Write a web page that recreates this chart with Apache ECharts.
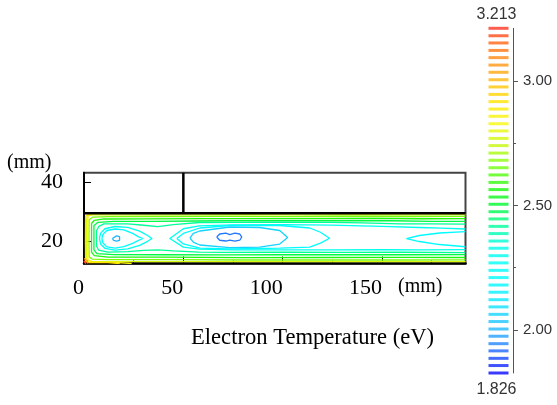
<!DOCTYPE html>
<html>
<head>
<meta charset="utf-8">
<title>Electron Temperature</title>
<script src="https://cdn.jsdelivr.net/npm/echarts@6.0.0/dist/echarts.min.js"></script>
<style>
  html, body { margin: 0; padding: 0; background: #fff; }
  #chart { width: 557px; height: 405px; }
</style>
</head>
<body>
<div id="chart"></div>
<script>
// ---- axes (mm) ----
var xRange = [0, 192];
var yRange = [12.3, 43.4];
var xTicks = [0, 50, 100, 150];
var xMajorTicks = [50, 100, 150];
var xMinorTicks = [25, 75, 125, 175];
var yTicks = [20, 40];
var plasmaTop = 29.5;     // wall between plasma region and upper box
var dividerX = 50;        // vertical wall in upper box

// ---- colour bar (eV) ----
var levels = [1.826, 1.856, 1.885, 1.915, 1.944, 1.974, 2.003, 2.033, 2.062, 2.092,
              2.121, 2.151, 2.180, 2.210, 2.239, 2.269, 2.298, 2.328, 2.357, 2.387,
              2.416, 2.446, 2.475, 2.505, 2.534, 2.564, 2.593, 2.623, 2.652, 2.682,
              2.711, 2.741, 2.770, 2.800, 2.829, 2.859, 2.888, 2.918, 2.947, 2.977,
              3.006, 3.036, 3.065, 3.095, 3.124, 3.154, 3.183, 3.213];
var barLabels = [2.0, 2.5, 3.0];
var barMinorTicks = [2.25, 2.75];

// ---- contour lines, [x mm, y mm] ----
// wall layers, open at the right boundary
var wall1 = [[192,29.02],[170,28.98],[140,29.03],[110,28.97],[80,29.0],[50,28.95],[20,28.98],[4,28.95],[1.8,28.6],[1.3,27.5],[1.3,20],[1.3,14.2],[1.8,13.3],[4,13.0],[30,12.95],[60,12.97],[100,12.92],[140,12.97],[170,12.93],[192,12.97]];
var wall2 = [[192,28.45],[165,28.4],[130,28.48],[100,28.38],[70,28.43],[40,28.4],[12,28.38],[4.5,28.2],[2.6,27.3],[2.5,20.5],[2.6,14.6],[4,13.8],[12,13.65],[45,13.6],[80,13.5],[120,13.55],[160,13.5],[192,13.55]];
var wall3 = [[192,27.7],[170,27.62],[145,27.75],[120,27.65],[90,27.7],[60,27.65],[30,27.6],[10,27.55],[5.2,27.1],[3.8,26.0],[3.8,16.2],[5.2,15.0],[12,14.5],[40,14.45],[80,14.3],[120,14.35],[160,14.4],[192,14.35]];
var wall4 = [[192,26.7],[175,26.75],[155,26.95],[130,26.95],[100,27.0],[75,26.95],[55,26.85],[35,26.75],[15,26.75],[7,26.4],[5.0,25.2],[5.0,17.0],[6.5,15.7],[15,15.35],[40,15.3],[70,15.25],[100,15.3],[130,15.35],[160,15.3],[192,15.35]];
var wall5 = [[192,25.8],[175,25.9],[159,25.85],[140,26.2],[124,26.42],[100,26.45],[75,26.4],[58,26.35],[45,25.6],[37,24.95],[30,25.4],[22,25.9],[10,25.85],[7.5,25.0],[6.3,23.5],[6.3,18.3],[7.3,16.9],[12,16.2],[22,16.4],[30,16.8],[37,17.0],[45,16.6],[58,16.2],[70,16.12],[100,16.15],[130,16.1],[160,16.15],[192,16.05]];
// left vortex
var leftLoop1 = [[7.8,20.9],[8.3,22.6],[10.5,24.2],[15.6,24.97],[22,24.7],[28,23.4],[32,21.9],[34.2,20.86],[32,19.9],[28,18.5],[22,17.3],[15.6,16.91],[10.5,17.5],[8.3,19.0],[7.8,20.9]];
var leftLoop2 = [[9.0,20.9],[9.6,22.3],[11.5,23.6],[15.6,24.12],[20,23.8],[24.5,22.6],[27.5,21.4],[29.6,20.86],[27.5,20.2],[24.5,19.2],[20,18.1],[15.6,17.6],[11.5,18.0],[9.6,19.3],[9.0,20.9]];
var leftCore = [[14.3,20.86],[14.9,21.5],[16.4,21.76],[17.9,21.5],[18.5,20.86],[17.9,20.25],[16.4,19.96],[14.9,20.25],[14.3,20.86]];
// middle vortex
var midOuter = [[192,24.12],[180,24.4],[168.8,24.63],[150,25.0],[124,25.45],[100,25.6],[75,25.55],[58,25.2],[50,24.2],[43.2,20.86],[50,17.9],[58,17.2],[75,17.0],[100,16.95],[124,17.0],[150,17.05],[170,17.0],[192,17.02]];
var midLoop1 = [[46.7,20.86],[50,22.6],[58.3,24.46],[73.4,25.32],[98.5,25.32],[113.6,24.46],[119,23],[123.6,20.96],[119,19.3],[113.6,17.94],[98.5,17.6],[73.4,17.26],[58.3,17.6],[50,19.0],[46.7,20.86]];
var midLoop2 = [[53.3,21.03],[55,22.6],[58.3,23.43],[73.4,24.8],[88.4,24.63],[98.5,23.6],[102.5,21.2],[98.5,18.97],[88.4,17.94],[73.4,17.77],[58.3,18.63],[55,19.6],[53.3,21.03]];
var midCore = [[66.8,21.37],[68.3,22.4],[71.4,22.68],[73.4,22.23],[75.9,22.68],[78.4,22.4],[79.4,21.37],[78.4,20.27],[75.9,20.0],[73.4,20.34],[71.4,20.0],[68.3,20.27],[66.8,21.37]];
// right region, open at the right boundary
var rightLoop = [[192,23.19],[178.9,22.74],[168.8,21.89],[162.3,20.86],[168.8,19.83],[178.9,18.8],[192,18.04]];
// hot layer on the left wall and the bottom-left corner
var corner1 = [[6,29.5],[2.5,29.3],[0.8,28.5],[0.7,20],[0.8,13.2],[2.5,12.65],[12,12.6],[18,12.3]];
var corner4 = [[14,29.5],[4,29.25],[2.0,28.8],[1.9,20],[2.0,13.6],[4,12.85],[14,12.75],[24,12.3]];
var corner2 = [[0,14.0],[0.8,13.8],[1.6,13.3],[2.0,12.3]];
var corner3 = [[0,13.2],[0.6,13.1],[1.0,12.7],[1.1,12.3]];

var contours = [
  [2.78, wall1], [2.66, wall2], [2.57, wall3], [2.49, wall4], [2.42, wall5],
  [2.33, leftLoop1], [2.20, leftLoop2], [2.00, leftCore],
  [2.33, midOuter], [2.20, midLoop1], [2.06, midLoop2], [1.93, midCore],
  [2.20, rightLoop],
  [2.86, corner4], [2.92, corner1], [3.06, corner2], [3.19, corner3]
];

// rainbow scale of the colour bar
var colorStops = [
  [1.826, '#0808ff'], [1.886, '#1848ff'], [1.945, '#2488ff'], [2.003, '#22b8ff'],
  [2.09, '#10e0ff'], [2.2, '#00fcff'], [2.33, '#00ffec'], [2.42, '#00ff98'],
  [2.505, '#00f830'], [2.565, '#18f80c'], [2.652, '#70ff0c'], [2.74, '#c4f80c'],
  [2.83, '#f8f80c'], [2.918, '#ffe400'], [3.006, '#ffb80c'], [3.095, '#ff8814'],
  [3.154, '#ff6414'], [3.213, '#ff3424']
];

function hexRgb(h) {
  return [parseInt(h.substr(1, 2), 16), parseInt(h.substr(3, 2), 16), parseInt(h.substr(5, 2), 16)];
}
function levelColor(v) {
  for (var i = 1; i < colorStops.length; i++) {
    if (v <= colorStops[i][0]) {
      var a = colorStops[i - 1], b = colorStops[i];
      var t = (v - a[0]) / (b[0] - a[0]);
      var ca = hexRgb(a[1]), cb = hexRgb(b[1]);
      var c = ca.map(function (x, k) { return Math.round(x + (cb[k] - x) * t); });
      return 'rgb(' + c.join(',') + ')';
    }
  }
  return colorStops[colorStops.length - 1][1];
}

var serif = "'Times New Roman', 'Liberation Serif', serif";
var sans = "Arial, 'Liberation Sans', sans-serif";

var myChart = echarts.init(document.getElementById('chart'));

var series = contours.map(function (c) {
  return {
    type: 'line',
    xAxisIndex: 0, yAxisIndex: 0,
    data: c[1],
    showSymbol: false, symbol: 'none',
    lineStyle: { color: levelColor(c[0]), width: c[0] > 3.1 ? 2 : 1.3 },
    silent: true, z: 2
  };
});
// walls of the chamber
series.push({
  type: 'line', xAxisIndex: 0, yAxisIndex: 0,
  data: [[xRange[0], plasmaTop], [xRange[1], plasmaTop]],
  symbol: 'none', lineStyle: { color: '#000', width: 2.5 }, silent: true, z: 5
});
series.push({
  type: 'line', xAxisIndex: 0, yAxisIndex: 0,
  data: [[dividerX, plasmaTop], [dividerX, yRange[1]]],
  symbol: 'none', lineStyle: { color: '#000', width: 2.5 }, silent: true, z: 5
});
// colour bar
series.push({
  type: 'scatter', xAxisIndex: 2, yAxisIndex: 1,
  data: levels.map(function (v) { return ['T', v]; }),
  symbol: 'rect', symbolSize: [20, 3],
  itemStyle: { color: function (p) { return levelColor(p.value[1]); } },
  silent: true
});

var option = {
  animation: false,
  backgroundColor: '#fff',
  grid: [
    { left: 84, top: 172.7, width: 381.5, height: 90.8, show: true, borderColor: '#444', borderWidth: 2, backgroundColor: 'transparent' },
    { left: 488.5, top: 28.3, width: 20, height: 344.7 }
  ],
  xAxis: [
    {
      type: 'value', gridIndex: 0, min: xRange[0], max: xRange[1], position: 'bottom',
      axisLine: { lineStyle: { color: '#000', width: 2.5 } },
      axisTick: { inside: true, length: 7, customValues: xMajorTicks, lineStyle: { color: '#000' } },
      axisLabel: { customValues: xTicks, align: 'right', margin: 14, fontSize: 22, fontFamily: serif, color: '#000' },
      splitLine: { show: false }
    },
    {
      type: 'value', gridIndex: 0, min: xRange[0], max: xRange[1], position: 'bottom',
      axisLine: { show: false },
      axisTick: { inside: true, length: 3, customValues: xMinorTicks, lineStyle: { color: '#000' } },
      axisLabel: { show: false },
      splitLine: { show: false }
    },
    { type: 'category', gridIndex: 1, data: ['T'], show: false }
  ],
  yAxis: [
    {
      type: 'value', gridIndex: 0, min: yRange[0], max: yRange[1],
      axisLine: { lineStyle: { color: '#000', width: 2 } },
      axisTick: { inside: true, length: 7, customValues: yTicks, lineStyle: { color: '#000' } },
      axisLabel: { customValues: yTicks, margin: 21, fontSize: 22, fontFamily: serif, color: '#000' },
      splitLine: { show: false }
    },
    {
      type: 'value', gridIndex: 1, min: levels[0], max: levels[levels.length - 1],
      position: 'right', offset: 4.5,
      axisLine: { show: true, lineStyle: { color: '#555', width: 1 } },
      axisTick: { show: true, length: 5, customValues: barLabels, lineStyle: { color: '#555' } },
      axisLabel: {
        customValues: barLabels, margin: 10, fontSize: 15, fontFamily: sans, color: '#333',
        formatter: function (v) { return v.toFixed(2); }
      },
      splitLine: { show: false }
    },
    {
      type: 'value', gridIndex: 1, min: levels[0], max: levels[levels.length - 1],
      position: 'right', offset: 4.5,
      axisLine: { show: false },
      axisTick: { show: true, length: 3, customValues: barMinorTicks, lineStyle: { color: '#555' } },
      axisLabel: { show: false },
      splitLine: { show: false }
    }
  ],
  graphic: [
    { type: 'text', x: 7, y: 163, style: { text: '(mm)', font: '20px ' + serif, fill: '#000', verticalAlign: 'middle' } },
    { type: 'text', x: 398, y: 287, style: { text: '(mm)', font: '20px ' + serif, fill: '#000', verticalAlign: 'middle' } },
    { type: 'text', x: 191, y: 338, style: { text: 'Electron Temperature (eV)', font: '22.6px ' + serif, fill: '#000', verticalAlign: 'middle' } },
    { type: 'text', x: 496.5, y: 15, style: { text: levels[levels.length - 1].toFixed(3), font: '16px ' + sans, fill: '#333', align: 'center', verticalAlign: 'middle' } },
    { type: 'text', x: 496.5, y: 390, style: { text: levels[0].toFixed(3), font: '16px ' + sans, fill: '#333', align: 'center', verticalAlign: 'middle' } }
  ],
  series: series
};

window.onresize = myChart.resize;
myChart.setOption(option);
</script>
</body>
</html>
